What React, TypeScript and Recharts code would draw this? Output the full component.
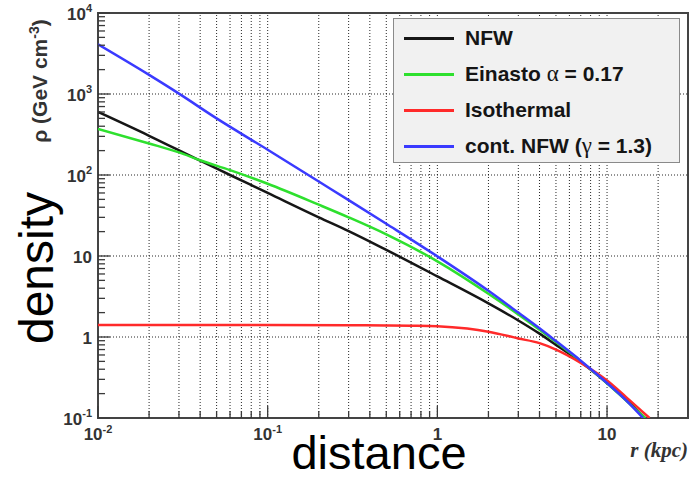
import React from "react";
import { LineChart, Line, XAxis, YAxis, ReferenceLine, ReferenceArea } from "recharts";

// radius r (kpc) and density rho (GeV cm^-3)
const nfwR = [0.01, 0.02, 0.04, 0.06, 0.1, 0.2, 0.3, 0.5, 1, 2, 3, 4, 5, 7, 10, 13, 16.7];
const nfwRho = [600, 305, 150, 100, 60, 30, 20.3, 11.9, 5.6, 2.6, 1.6, 1.1, 0.8, 0.49, 0.27, 0.167, 0.1];

const einastoR = [0.01, 0.02, 0.03, 0.04, 0.06, 0.1, 0.2, 0.3, 0.5, 1, 2, 3, 4, 5, 7, 10, 13, 16.8];
const einastoRho = [370, 245, 190, 152, 115, 78, 43, 30, 18.5, 8.6, 3.42, 1.9, 1.23, 0.865, 0.5, 0.268, 0.163, 0.1];

const isoR = [0.01, 0.1, 0.3, 0.5, 0.7, 1, 1.5, 2, 3, 4, 5, 7, 10, 13, 17.8];
const isoRho = [1.41, 1.41, 1.4, 1.39, 1.38, 1.36, 1.27, 1.16, 0.96, 0.84, 0.7, 0.48, 0.29, 0.18, 0.1];

const contR = [0.01, 0.02, 0.03, 0.05, 0.1, 0.2, 0.3, 0.5, 1, 2, 3, 4, 5, 7, 10, 13, 16.3];
const contRho = [4100, 1720, 1010, 500, 205, 83, 49, 25, 9.9, 3.72, 2.0, 1.28, 0.89, 0.51, 0.27, 0.164, 0.1];

// axis ticks
const xMajor = [0.01, 0.1, 1, 10];
const xBase = ["10", "10", "1", "10"];
const xExp = ["-2", "-1", "", ""];
const xMinor = [
  0.02, 0.03, 0.04, 0.05, 0.06, 0.07, 0.08, 0.09,
  0.2, 0.3, 0.4, 0.5, 0.6, 0.7, 0.8, 0.9,
  2, 3, 4, 5, 6, 7, 8, 9, 20,
];

const yMajor = [0.1, 1, 10, 100, 1000, 10000];
const yBase = ["10", "1", "10", "10", "10", "10"];
const yExp = ["-1", "", "", "2", "3", "4"];
const yMinor = [
  0.2, 0.3, 0.4, 0.5, 0.6, 0.7, 0.8, 0.9,
  2, 3, 4, 5, 6, 7, 8, 9,
  20, 30, 40, 50, 60, 70, 80, 90,
  200, 300, 400, 500, 600, 700, 800, 900,
  2000, 3000, 4000, 5000, 6000, 7000, 8000, 9000,
];

const xGrid = [...xMinor, 0.1, 1, 10];
const yGrid = [1, 10, 100, 1000];

const toPoints = (r: number[], rho: number[]) => r.map((v, i) => ({ r: v, rho: rho[i] }));

const series = [
  { name: "NFW", color: "#161616", data: toPoints(nfwR, nfwRho) },
  { name: "Einasto α = 0.17", color: "#2ee02e", data: toPoints(einastoR, einastoRho) },
  { name: "Isothermal", color: "#ff2a2a", data: toPoints(isoR, isoRho) },
  { name: "cont. NFW (γ = 1.3)", color: "#3a3aff", data: toPoints(contR, contRho) },
];

const sans = "'Liberation Sans', Arial, Helvetica, sans-serif";
const serif = "'Liberation Serif', 'Times New Roman', serif";
const tickColor = "#3a3a3a";

function BottomTick({ x, y, payload }: any) {
  const i = xMajor.indexOf(payload.value);
  return (
    <g>
      <line x1={x} y1={y} x2={x} y2={y - (i >= 0 ? 12 : 7)} stroke={tickColor} strokeWidth={1.3} />
      {i >= 0 && (
        <text x={x} y={y + 22} textAnchor="middle" fontFamily={sans} fontWeight="bold" fontSize={17} fill="#333">
          {xBase[i]}
          {xExp[i] && (
            <tspan dy={-7} fontSize={11}>
              {xExp[i]}
            </tspan>
          )}
        </text>
      )}
    </g>
  );
}

function TopTick({ x, y, payload }: any) {
  const major = xMajor.includes(payload.value);
  return <line x1={x} y1={y} x2={x} y2={y + (major ? 12 : 7)} stroke={tickColor} strokeWidth={1.3} />;
}

function LeftTick({ x, y, payload }: any) {
  const i = yMajor.indexOf(payload.value);
  return (
    <g>
      <line x1={x} y1={y} x2={x + (i >= 0 ? 12 : 7)} y2={y} stroke={tickColor} strokeWidth={1.3} />
      {i >= 0 && (
        <text x={x - 6} y={y + 7} textAnchor="end" fontFamily={sans} fontWeight="bold" fontSize={17} fill="#333">
          {yBase[i]}
          {yExp[i] && (
            <tspan dy={-8} fontSize={11}>
              {yExp[i]}
            </tspan>
          )}
        </text>
      )}
    </g>
  );
}

function RightTick({ x, y, payload }: any) {
  const major = yMajor.includes(payload.value);
  return <line x1={x} y1={y} x2={x - (major ? 12 : 7)} y2={y} stroke={tickColor} strokeWidth={1.3} />;
}

// greek letters in the legend come out in a serif face, like the original
function LegendName({ name }: { name: string }) {
  return (
    <>
      {name.split(/([αγ])/).map((part, i) =>
        part === "α" || part === "γ" ? (
          <span key={i} style={{ fontFamily: serif, fontWeight: "normal", fontSize: 23 }}>
            {part}
          </span>
        ) : (
          <span key={i}>{part}</span>
        )
      )}
    </>
  );
}

function Legend() {
  return (
    <div
      style={{
        position: "absolute",
        left: 393,
        top: 18,
        width: 287,
        height: 145,
        boxSizing: "border-box",
        background: "#f1f1f1",
        border: "1px solid #8a8a8a",
        paddingTop: 1,
      }}
    >
      {series.map((s) => (
        <div key={s.name} style={{ position: "relative", height: 36 }}>
          <div
            style={{
              position: "absolute",
              left: 10,
              top: 17,
              width: 50,
              height: 3,
              background: s.color,
            }}
          />
          <div
            style={{
              position: "absolute",
              left: 71,
              top: 0,
              lineHeight: "36px",
              fontFamily: sans,
              fontWeight: "bold",
              fontSize: 21,
              color: "#151515",
              whiteSpace: "nowrap",
            }}
          >
            <LegendName name={s.name} />
          </div>
        </div>
      ))}
    </div>
  );
}

export default function App() {
  return (
    <div style={{ position: "relative", width: 700, height: 477, background: "#fff" }}>
      <style>{"body{margin:0}"}</style>
      <LineChart width={700} height={477} margin={{ top: 13, right: 12, bottom: 29, left: 38 }}>
        <XAxis
          type="number"
          dataKey="r"
          scale="log"
          domain={[0.01, 30]}
          allowDataOverflow
          ticks={[...xMajor, ...xMinor]}
          interval={0}
          tick={BottomTick}
          tickLine={false}
          axisLine={false}
          tickSize={0}
          tickMargin={0}
          height={30}
        />
        <XAxis
          xAxisId="top"
          orientation="top"
          type="number"
          scale="log"
          domain={[0.01, 30]}
          allowDataOverflow
          ticks={[...xMajor, ...xMinor]}
          interval={0}
          tick={TopTick}
          tickLine={false}
          axisLine={false}
          tickSize={0}
          tickMargin={0}
          height={0}
        />
        <YAxis
          type="number"
          dataKey="rho"
          scale="log"
          domain={[0.1, 10000]}
          allowDataOverflow
          ticks={[...yMajor, ...yMinor]}
          interval={0}
          tick={LeftTick}
          tickLine={false}
          axisLine={false}
          tickSize={0}
          tickMargin={0}
          width={60}
        />
        <YAxis
          yAxisId="right"
          orientation="right"
          type="number"
          scale="log"
          domain={[0.1, 10000]}
          allowDataOverflow
          ticks={[...yMajor, ...yMinor]}
          interval={0}
          tick={RightTick}
          tickLine={false}
          axisLine={false}
          tickSize={0}
          tickMargin={0}
          width={0}
        />
        {xGrid.map((v) => (
          <ReferenceLine key={"gx" + v} x={v} stroke="#000" strokeOpacity={0.85} strokeDasharray="1 2" strokeWidth={1} />
        ))}
        {yGrid.map((v) => (
          <ReferenceLine key={"gy" + v} y={v} stroke="#000" strokeOpacity={0.85} strokeDasharray="1 2" strokeWidth={1} />
        ))}
        {series.map((s) => (
          <Line
            key={s.name}
            data={s.data}
            dataKey="rho"
            type="monotone"
            stroke={s.color}
            strokeWidth={2.5}
            dot={false}
            isAnimationActive={false}
          />
        ))}
        <ReferenceArea x1={0.01} x2={30} y1={0.1} y2={10000} fill="none" stroke="#444" strokeWidth={2} />
      </LineChart>
      <svg
        width={700}
        height={477}
        style={{ position: "absolute", left: 0, top: 0, pointerEvents: "none" }}
      >
        <text transform="translate(47,81) rotate(-90)" textAnchor="middle" fontFamily={sans} fontWeight="bold" fontSize={21} fill="#333">
          ρ (GeV cm
          <tspan dy={-8} fontSize={14}>
            -3
          </tspan>
          <tspan dy={8}>)</tspan>
        </text>
        <text transform="translate(53,268) rotate(-90)" textAnchor="middle" fontFamily={sans} fontSize={48} fill="#000">
          density
        </text>
        <text x={379} y={469} textAnchor="middle" fontFamily={sans} fontSize={47} fill="#000">
          distance
        </text>
        <text
          x={688}
          y={457}
          textAnchor="end"
          fontFamily={serif}
          fontStyle="italic"
          fontWeight="bold"
          fontSize={21}
          fill="#333"
        >
          r (kpc)
        </text>
      </svg>
      <Legend />
    </div>
  );
}
